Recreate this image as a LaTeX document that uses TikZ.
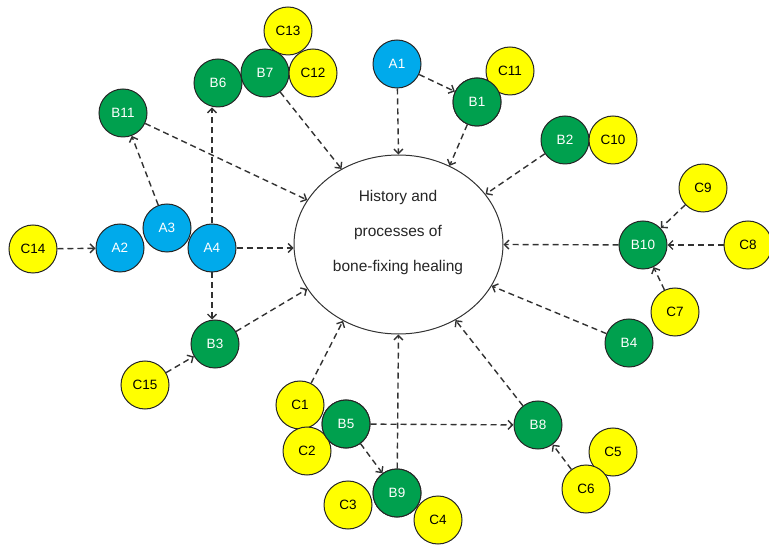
\documentclass[tikz,border=0pt]{standalone}
\usepackage{fontspec}
\setmainfont{Liberation Sans}
\usetikzlibrary{shapes.geometric,arrows.meta}
\definecolor{gfill}{RGB}{0,160,78}
\definecolor{bfill}{RGB}{0,170,235}
\definecolor{yfill}{RGB}{255,255,0}
\definecolor{lnc}{RGB}{50,50,50}
\begin{document}
\begin{tikzpicture}[x=1pt,y=-1pt,
  circ/.style={circle, draw=black!85, line width=1pt, minimum size=48pt, inner sep=0pt, font=\fontsize{13.5}{13.5}\selectfont},
  gn/.style={circ, fill=gfill, text=white},
  bl/.style={circ, fill=bfill, text=white},
  yl/.style={circ, fill=yfill, text=black},
  conn/.style={draw=lnc, line width=1.4pt, dash pattern=on 6pt off 4pt, -{Straight Barb[length=4.5pt,width=9pt]}},
  centre/.style={ellipse, draw=black!80, line width=1pt, minimum width=209pt, minimum height=179pt, inner sep=0pt, fill=white},
  ctext/.style={font=\fontsize{15.5}{35}\selectfont, align=center, text=black!85}]
\useasboundingbox (0,0) rectangle (769,545);
% centre
\node[centre] (E) at (398.5,244.5) {};
\node[ctext] (Et) at (398,232) {History and\\processes of\\bone-fixing healing};
% blue
\node[bl] (A1) at (397,64) {A1};
\node[bl] (A2) at (120,248) {A2};
\node[bl] (A3) at (167,228) {A3};
\node[bl] (A4) at (212,248) {A4};
% green
\node[gn] (B1) at (477,102) {B1};
\node[gn] (B2) at (565,140) {B2};
\node[gn] (B3) at (215,344) {B3};
\node[gn] (B4) at (629,343) {B4};
\node[gn] (B5) at (346,424) {B5};
\node[gn] (B6) at (218,83) {B6};
\node[yl] (C13) at (288,31) {C13};
\node[gn] (B7) at (265,73) {B7};
\node[yl] (C12) at (313,73) {C12};
\node[gn] (B8) at (538,425) {B8};
\node[gn] (B9) at (397,493) {B9};
\node[gn] (B10) at (643,245) {B10};
\node[gn] (B11) at (123,113) {B11};
% yellow
\node[yl] (C1) at (300,405) {C1};
\node[yl] (C2) at (307,451) {C2};
\node[yl] (C3) at (348,505) {C3};
\node[yl] (C4) at (438,520) {C4};
\node[yl] (C5) at (613,452) {C5};
\node[yl] (C6) at (586,489) {C6};
\node[yl] (C7) at (675,312) {C7};
\node[yl] (C8) at (748,245) {C8};
\node[yl] (C9) at (703,188) {C9};
\node[yl] (C10) at (613,140) {C10};
\node[yl] (C11) at (510,71) {C11};
\node[yl] (C14) at (33,249) {C14};
\node[yl] (C15) at (145,385) {C15};
% redraw B5 over C1/C2, B9 over C3/C4
\node[gn] at (B5) {B5};
\node[gn] at (B9) {B9};
\node[gn] at (B1) {B1};
% connectors
\draw[conn] (A1) -- (E.90);
\draw[conn] (A1) -- (B1);
\draw[conn] (B1) -- (E.57);
\draw[conn] (B2) -- (E.30);
\draw[conn] (B10) -- (E.0);
\draw[conn] (C9) -- (B10);
\draw[conn] (C8) -- (B10);
\draw[conn] (C7) -- (B10);
\draw[conn] (B4) -- (E.-24);
\draw[conn] (B8) -- (E.-53);
\draw[conn] (C6) -- (B8);
\draw[conn] (B5) -- (B8);
\draw[conn] (B5) -- (B9);
\draw[conn] (B9) -- (E.270);
\draw[conn] (C1) -- (E.234);
\draw[conn] (B3) -- (E.206);
\draw[conn] (C15) -- (B3);
\draw[conn] (A4.south) -- (A4.south |- B3.north);
\draw[conn] (A4.east) -- (A4.east -| E.west);
\draw[conn] (A4.north) -- (A4.north |- B6.south);
\draw[conn] (A3) -- (B11);
\draw[conn] (C14) -- (A2);
\draw[conn] (B11) -- (E.154);
\draw[conn] (B7) -- (E.127);
\end{tikzpicture}
\end{document}
